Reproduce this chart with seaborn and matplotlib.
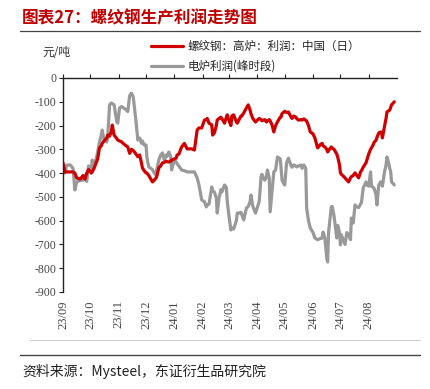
import numpy as np
import pandas as pd
import seaborn as sns
import matplotlib.dates as mdates
from matplotlib import pyplot as plt
from matplotlib.lines import Line2D

# 日期（日度）
dates = [
    "2023-09-01", "2023-09-03", "2023-09-05", "2023-09-09", "2023-09-12", "2023-09-14", "2023-09-16",
    "2023-09-20", "2023-09-23", "2023-09-25", "2023-09-27", "2023-09-29",
    "2023-10-02", "2023-10-03", "2023-10-05", "2023-10-08", "2023-10-09", "2023-10-11", "2023-10-13",
    "2023-10-14", "2023-10-16", "2023-10-19", "2023-10-20", "2023-10-22", "2023-10-24", "2023-10-25",
    "2023-10-27", "2023-10-30", "2023-10-31",
    "2023-11-02", "2023-11-04", "2023-11-08", "2023-11-11", "2023-11-13", "2023-11-15", "2023-11-17",
    "2023-11-20", "2023-11-22", "2023-11-24", "2023-11-26", "2023-11-27", "2023-11-29",
    "2023-12-01", "2023-12-02", "2023-12-04", "2023-12-08", "2023-12-10", "2023-12-12", "2023-12-13",
    "2023-12-15", "2023-12-17", "2023-12-19", "2023-12-21", "2023-12-23", "2023-12-24", "2023-12-26",
    "2023-12-28", "2023-12-29",
    "2024-01-01", "2024-01-03", "2024-01-04", "2024-01-06", "2024-01-09", "2024-01-12", "2024-01-15",
    "2024-01-20", "2024-01-23", "2024-01-26", "2024-01-28", "2024-01-31",
    "2024-02-03", "2024-02-05", "2024-02-06", "2024-02-08", "2024-02-11", "2024-02-12", "2024-02-14",
    "2024-02-16", "2024-02-17", "2024-02-19", "2024-02-21", "2024-02-22", "2024-02-25", "2024-02-27",
    "2024-02-28",
    "2024-03-01", "2024-03-03", "2024-03-04", "2024-03-06", "2024-03-09", "2024-03-10", "2024-03-12",
    "2024-03-14", "2024-03-15", "2024-03-17", "2024-03-20", "2024-03-22", "2024-03-24", "2024-03-25",
    "2024-03-27", "2024-03-30",
    "2024-04-03", "2024-04-05", "2024-04-06", "2024-04-09", "2024-04-11", "2024-04-12", "2024-04-14",
    "2024-04-15", "2024-04-17", "2024-04-19", "2024-04-21", "2024-04-23", "2024-04-26", "2024-04-27",
    "2024-04-28", "2024-04-30",
    "2024-05-01", "2024-05-03", "2024-05-05", "2024-05-08", "2024-05-09", "2024-05-11", "2024-05-13",
    "2024-05-14", "2024-05-16", "2024-05-19", "2024-05-20", "2024-05-22", "2024-05-24", "2024-05-25",
    "2024-05-27", "2024-05-29",
    "2024-06-01", "2024-06-03", "2024-06-06", "2024-06-09", "2024-06-11", "2024-06-12", "2024-06-14",
    "2024-06-16", "2024-06-17", "2024-06-18", "2024-06-21", "2024-06-22", "2024-06-24", "2024-06-27",
    "2024-06-28", "2024-06-30",
    "2024-07-01", "2024-07-02", "2024-07-04", "2024-07-06", "2024-07-08", "2024-07-10", "2024-07-12",
    "2024-07-13", "2024-07-15", "2024-07-17", "2024-07-18", "2024-07-21", "2024-07-23", "2024-07-24",
    "2024-07-26", "2024-07-29", "2024-07-30",
    "2024-08-01", "2024-08-03", "2024-08-04", "2024-08-06", "2024-08-07", "2024-08-09", "2024-08-10",
    "2024-08-12", "2024-08-14", "2024-08-15", "2024-08-16", "2024-08-17", "2024-08-18", "2024-08-20",
    "2024-08-21", "2024-08-23", "2024-08-24", "2024-08-25", "2024-08-26", "2024-08-28", "2024-08-29",
]

# 螺纹钢：高炉：利润：中国（日）
bf_profit = [
    -357, -395, -395, -395, -395, -400, -420, -425, -410, -425, -400, -385,
    -400, -395, -380, -350, -340, -294, -285, -275, -265, -252, -240, -245, -225, -198, -240, -255, -261,
    -265, -268, -282, -290, -317, -300, -305, -320, -331, -324, -357, -378, -390,
    -399, -400, -410, -437, -430, -420, -410, -378, -370, -357, -355, -350, -352, -353, -350, -345,
    -340, -337, -324, -320, -290, -275, -298, -298, -303, -219, -210, -210,
    -177, -175, -170, -190, -197, -240, -230, -200, -177, -170, -165, -170, -190, -165, -155,
    -180, -200, -160, -155, -185, -190, -175, -160, -160, -147, -126, -113, -135, -150, -170, -185,
    -170, -175, -180, -175, -185, -180, -175, -180, -197, -227, -200, -185, -165, -164, -150, -143,
    -140, -145, -143, -165, -170, -160, -165, -170, -177, -175, -177, -172, -178, -181, -200, -227,
    -235, -252, -294, -280, -275, -285, -290, -300, -311, -305, -290, -295, -300, -320, -332, -365,
    -399, -405, -412, -420, -429, -437, -420, -415, -410, -399, -405, -420, -395, -390, -375, -357, -345,
    -320, -300, -294, -280, -270, -262, -250, -231, -227, -230, -252, -230, -210, -170, -143, -138, -135,
    -125, -113, -105, -100,
]

# 电炉利润(峰时段)
eaf_profit = [
    -370, -400, -366, -366, -380, -471, -437, -430, -430, -415, -435, -370,
    -385, -345, -366, -332, -311, -269, -240, -219, -261, -269, -250, -113, -105, -108, -113, -185, -190,
    -126, -120, -130, -141, -75, -64, -80, -183, -261, -252, -275, -265, -282,
    -282, -336, -374, -385, -400, -408, -380, -345, -324, -315, -345, -324, -330, -311, -330, -387,
    -345, -353, -360, -370, -387, -390, -395, -395, -395, -420, -450, -513,
    -520, -542, -535, -530, -458, -475, -480, -505, -568, -505, -470, -480, -450, -460, -520,
    -584, -639, -631, -635, -600, -568, -568, -565, -575, -597, -547, -540, -520, -492, -540, -568,
    -520, -416, -405, -430, -416, -387, -420, -563, -480, -395, -387, -332, -340, -380, -430, -445,
    -450, -357, -337, -370, -375, -366, -370, -374, -370, -366, -380, -366, -380, -547, -600, -631,
    -650, -673, -680, -675, -673, -648, -673, -757, -774, -650, -542, -540, -580, -673, -620, -650,
    -702, -660, -680, -700, -650, -660, -680, -589, -610, -534, -540, -545, -530, -525, -462, -437, -450,
    -455, -395, -455, -460, -465, -490, -534, -450, -437, -440, -455, -430, -400, -366, -332, -360, -380,
    -390, -437, -445, -450,
]

series_names = ["螺纹钢：高炉：利润：中国（日）", "电炉利润(峰时段)"]
y_ticks = [0, -100, -200, -300, -400, -500, -600, -700, -800, -900]

df = pd.DataFrame({"date": pd.to_datetime(dates), series_names[0]: bf_profit, series_names[1]: eaf_profit})
long_df = df.melt(id_vars="date", var_name="series", value_name="profit")

sns.set_theme(style="white")
cjk = ["Noto Sans CJK SC", "DejaVu Sans"]
serif = ["Liberation Serif", "DejaVu Serif"]
plt.rcParams["font.family"] = cjk

red = "#D00000"
grey = "#999999"

fig = plt.figure(figsize=(4.3, 3.89), dpi=100)
ax = fig.add_axes([63 / 430, 1 - 292 / 389, 334 / 430, 214 / 389])

# 先画灰线，红线在上
sns.lineplot(data=long_df, x="date", y="profit", hue="series", hue_order=series_names[::-1],
             palette=[grey, red], linewidth=2.3, legend=False, ax=ax)

ax.set_xlim(pd.Timestamp("2023-09-01"), pd.Timestamp("2024-09-01"))
ax.set_ylim(-900, 0)
ax.set_yticks(y_ticks)
ax.set_yticklabels([str(v) for v in y_ticks], family=serif, fontsize=8.5, color="#444444")
ax.xaxis.set_major_locator(mdates.MonthLocator())
ticks = ax.get_xticks()[:-1]
ax.set_xticks(ticks)
ax.set_xticklabels([mdates.num2date(t).strftime("%y/%m") for t in ticks], rotation=90,
                   family=serif, fontsize=9, color="#444444")

ax.set_xlabel("")
ax.set_ylabel("")
for side in ["right", "bottom"]:
    ax.spines[side].set_visible(False)
for side in ["left", "top"]:
    ax.spines[side].set_color("#222222")
    ax.spines[side].set_linewidth(1.0)
ax.tick_params(axis="x", top=True, bottom=False, labeltop=False, labelbottom=True,
               direction="out", length=3, width=0.8, color="#222222", pad=3)
ax.tick_params(axis="y", left=True, direction="out", length=3, width=0.8, color="#222222", pad=2)

# 图例
handles = [Line2D([], [], color=red, lw=2.3), Line2D([], [], color=grey, lw=2.3)]
fig.legend(handles, series_names, loc="upper left", bbox_to_anchor=(151 / 430, 1 - 40 / 389),
           frameon=False, handlelength=2.8, handletextpad=0.35, labelspacing=0.6,
           borderaxespad=0, borderpad=0, prop={"family": cjk, "size": 8.3})

fig.text(42 / 430, 1 - 52 / 389, "元/吨", fontsize=8.5, va="center", ha="left", color="#333333")

# 标题及装饰线
fig.text(22 / 430, 1 - 18 / 389, "图表27：螺纹钢生产利润走势图", fontsize=12, fontweight="bold",
         color="#C00000", va="center", ha="left")
fig.add_artist(Line2D([20 / 430, 420 / 430], [1 - 31 / 389, 1 - 31 / 389], color="#444444", lw=0.9))
fig.add_artist(Line2D([30 / 430, 420 / 430], [1 - 340 / 389, 1 - 340 / 389], color="#cccccc", lw=0.7))
fig.add_artist(Line2D([20 / 430, 420 / 430], [1 - 355 / 389, 1 - 355 / 389], color="#444444", lw=1.0))
fig.text(22 / 430, 1 - 371 / 389, "资料来源：Mysteel，东证衍生品研究院", fontsize=10,
         color="#222222", va="center", ha="left")

fig.savefig("out.png", dpi=100)
